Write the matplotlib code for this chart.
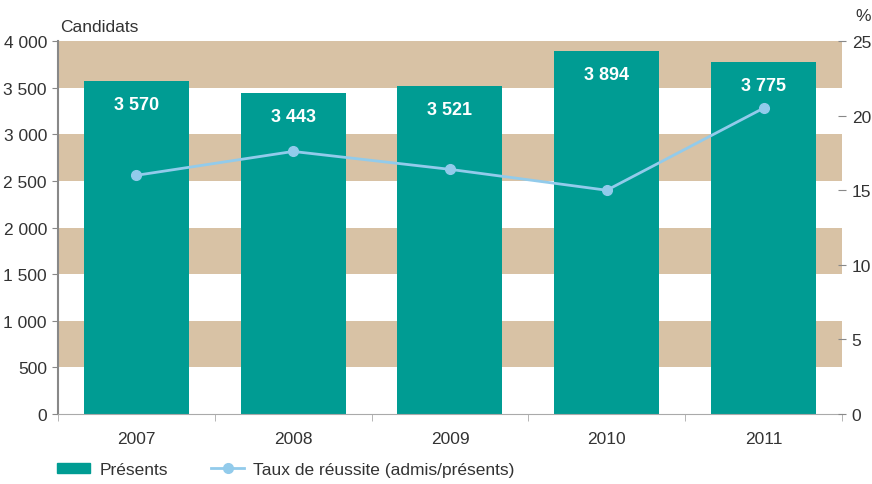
import matplotlib.pyplot as plt
from matplotlib.ticker import FuncFormatter, FixedLocator
from matplotlib.lines import Line2D
from matplotlib.patches import Patch

years = ['2007', '2008', '2009', '2010', '2011']
presents = [3570, 3443, 3521, 3894, 3775]
taux = [16.0, 17.6, 16.4, 15.0, 20.5]

teal = '#009c93'
tan = '#d8c2a5'
blue = '#92cbeb'
txt = '#333333'
plt.rcParams['font.family'] = ['Liberation Sans', 'DejaVu Sans']

fig = plt.figure(figsize=(8.72, 4.85), dpi=100)
ax = fig.add_axes([0.0665, 0.1443, 0.899, 0.769])

for lo in range(500, 4000, 1000):
    ax.axhspan(lo, lo + 500, color=tan, lw=0, zorder=0)

x = list(range(len(years)))
bars = ax.bar(x, presents, width=0.67, color=teal, zorder=2)
for xi, v in zip(x, presents):
    ax.text(xi, v - 250, f'{v:,}'.replace(',', ' '), ha='center', va='center',
            color='white', fontsize=13, fontweight='bold', zorder=3)

ax.set_xlim(-0.5, 4.5)
ax.set_ylim(0, 4000)
ax.set_yticks(range(0, 4001, 500))
ax.yaxis.set_major_formatter(FuncFormatter(lambda v, p: f'{int(v):,}'.replace(',', ' ')))
ax.set_xticks(x)
ax.set_xticklabels(years)
ax.xaxis.set_minor_locator(FixedLocator([i - 0.5 for i in range(6)]))
ax.tick_params(axis='x', which='major', length=0, pad=12, labelsize=12.5, labelcolor=txt)
ax.tick_params(axis='x', which='minor', length=5, color='#aaaaaa')
ax.tick_params(axis='y', length=4, color='#888888', labelsize=12.5, labelcolor=txt, pad=4)
for s in ['top', 'right']:
    ax.spines[s].set_visible(False)
ax.spines['left'].set_color('#888888')
ax.spines['left'].set_linewidth(1.5)
ax.spines['bottom'].set_color('#aaaaaa')

ax2 = ax.twinx()
ax2.plot(x, taux, color=blue, lw=2, marker='o', ms=7, zorder=4)
ax2.set_ylim(0, 25)
ax2.set_yticks(range(0, 26, 5))
ax2.tick_params(axis='y', length=6, color='#888888', labelsize=12.5, labelcolor=txt, pad=4, direction='inout')
for s in ['top', 'right', 'left', 'bottom']:
    ax2.spines[s].set_visible(False)

fig.text(0.069, 0.943, 'Candidats', fontsize=12.5, color=txt, ha='left', va='center')
fig.text(0.99, 0.967, '%', fontsize=12.5, color=txt, ha='center', va='center')

handles = [Patch(color=teal), Line2D([], [], color=blue, lw=2, marker='o', ms=7)]
fig.legend(handles, ['Présents', 'Taux de réussite (admis/présents)'], loc='lower left',
           bbox_to_anchor=(0.048, -0.018), ncol=2, frameon=False, fontsize=12.5,
           handlelength=1.9, handleheight=0.55, columnspacing=2.5, handletextpad=0.5,
           labelcolor=txt)

fig.savefig('out.png', dpi=100)
